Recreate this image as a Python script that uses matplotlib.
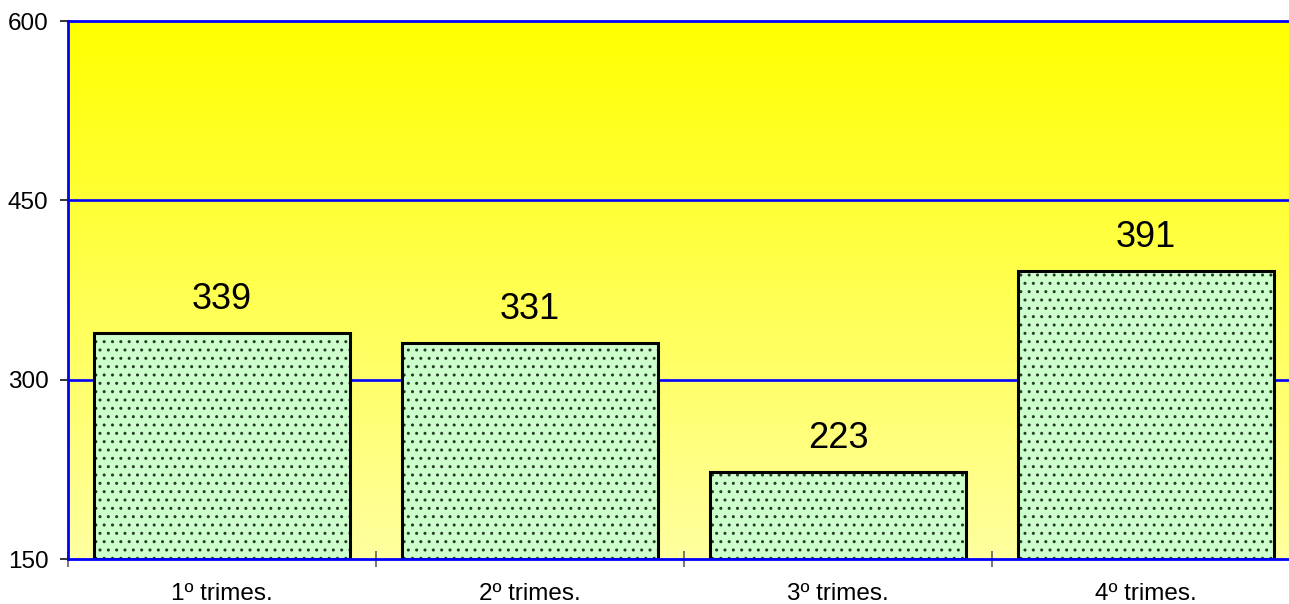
import numpy as np
import matplotlib
matplotlib.use("Agg")
import matplotlib.pyplot as plt
from matplotlib.colors import LinearSegmentedColormap

categories = ["1º trimes.", "2º trimes.", "3º trimes.", "4º trimes."]
values = [339, 331, 223, 391]
yticks = [150, 300, 450, 600]

plt.rcParams['font.family'] = ['Liberation Sans', 'DejaVu Sans']
plt.rcParams['hatch.linewidth'] = 1.0

W, H = 1289, 604
fig = plt.figure(figsize=(W / 100, H / 100), dpi=100)
left_px, right_px, top_px, bot_px = 68, 1300, 21, 559
ax = fig.add_axes([left_px / W, (H - bot_px) / H, (right_px - left_px) / W, (bot_px - top_px) / H])

x = np.arange(len(categories))
ax.set_xlim(-0.5, len(categories) - 0.5)
ax.set_ylim(yticks[0], yticks[-1])

# gradient background
cmap = LinearSegmentedColormap.from_list("bg", ["#FFFFA0", "#FFFF00"])
grad = np.linspace(0, 1, 256).reshape(-1, 1)
ax.imshow(grad, cmap=cmap, aspect='auto', origin='lower',
          extent=[-0.5, len(categories) - 0.5, yticks[0], yticks[-1]], zorder=0)

# gridlines
for yv in yticks[1:-1]:
    ax.axhline(yv, color='#0000FF', lw=1.9, zorder=1)

bw = 0.834
bottom = yticks[0]
heights = [v - bottom for v in values]
ax.bar(x, heights, bottom=bottom, width=bw, color='#CCFFCC', edgecolor='none', zorder=2)
ax.bar(x, heights, bottom=bottom, width=bw, color='none', edgecolor='#2A3A2A', hatch='..', lw=0, zorder=3)
ax.bar(x, heights, bottom=bottom, width=bw, color='none', edgecolor='black', lw=2.2, zorder=4)

for xi, v in zip(x, values):
    ax.annotate(str(v), (xi, v), xytext=(0, 17), textcoords='offset points',
                ha='center', va='baseline', fontsize=26, color='black', zorder=5)

for s in ['left', 'bottom', 'top']:
    ax.spines[s].set_color('#0000FF')
    ax.spines[s].set_linewidth(2.0)
    ax.spines[s].set_zorder(6)
ax.spines['right'].set_visible(False)

ax.set_yticks(yticks)
ax.set_yticklabels([str(t) for t in yticks], fontsize=17.5)
ax.tick_params(axis='y', length=6, width=1.1, color='black', pad=8)

ax.set_xticks(x)
ax.set_xticklabels(categories, fontsize=17.5)
ax.tick_params(axis='x', which='major', length=0, pad=17)
ax.set_xticks(np.arange(-0.5, len(categories), 1.0), minor=True)
ax.tick_params(axis='x', which='minor', length=11, width=1.1, color='#555555', direction='inout')

fig.savefig("out.png", dpi=100)
